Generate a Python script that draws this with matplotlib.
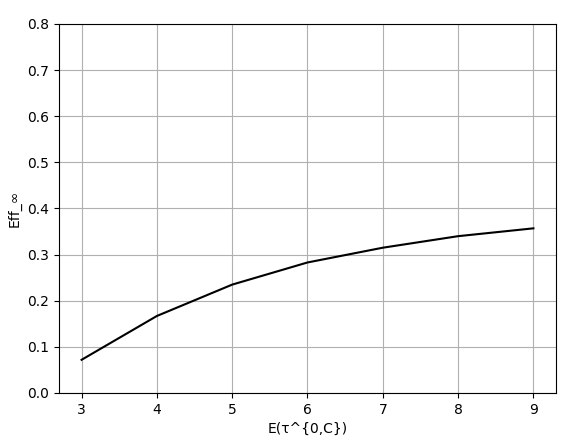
import matplotlib
matplotlib.use("Agg")
import matplotlib.pyplot as plt

# E(tau^{0,C}) values and efficiency
x_vals = [3, 4, 5, 6, 7, 8, 9]
eff = [0.072, 0.167, 0.235, 0.283, 0.315, 0.340, 0.357]

fig = plt.figure(figsize=(5.77, 4.42), dpi=100)
ax = fig.add_axes([59 / 577, 1 - 393 / 442, 497 / 577, 369 / 442])

ax.plot(x_vals, eff, color="black")
ax.set_ylim(0, 0.8)
ax.set_xlabel("E(τ^{0,C})")
ax.set_ylabel("Eff_∞")
ax.grid(True)

fig.savefig("out.png", dpi=100)
